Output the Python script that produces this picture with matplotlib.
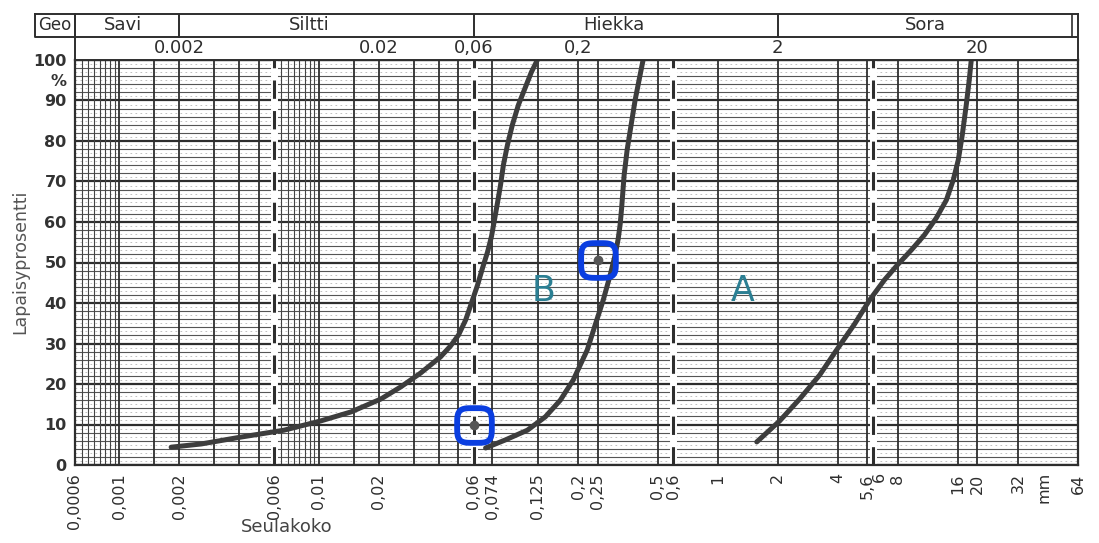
import numpy as np
import matplotlib.pyplot as plt
import matplotlib.transforms as mtransforms
from matplotlib.path import Path

# ---------------- data ----------------
# seulakoko (mm) vs lapaisyprosentti (%)
curve1_x = [0.00182, 0.00258, 0.00408, 0.0067, 0.01026, 0.0145, 0.0205, 0.0258, 0.0324,
            0.0408, 0.0458, 0.0502, 0.0545, 0.0583, 0.0625, 0.0662, 0.0702, 0.0735,
            0.076, 0.0787, 0.0815, 0.0843, 0.0883, 0.0935, 0.1002, 0.1087, 0.1164, 0.1247]
curve1_y = [4.4, 5.2, 6.9, 8.6, 10.9, 13.1, 16.3, 19.3, 22.7, 26.7, 29.4, 32.1, 35.8,
            40.0, 44.4, 48.6, 52.6, 56.5, 60.5, 64.7, 69.1, 74.1, 79.0, 84.0, 88.9,
            93.3, 97.0, 100]
curve2_x = [0.0686, 0.0863, 0.1112, 0.1368, 0.1626, 0.1888, 0.2046, 0.2218, 0.2432,
            0.2667, 0.2891, 0.3062, 0.3170, 0.3245, 0.3300, 0.3396, 0.3516, 0.3682,
            0.3855, 0.4037, 0.4227]
curve2_y = [4.2, 6.2, 8.6, 11.9, 16.0, 21.0, 24.7, 28.4, 34.6, 40.7, 46.9, 51.9, 55.8,
            59.5, 63.5, 71.6, 77.8, 84.0, 90.1, 95.1, 100]
curve3_x = [1.57, 2.046, 2.576, 3.243, 3.945, 4.853, 5.768, 6.855, 7.962, 9.355, 10.87,
            12.47, 14.0, 15.17, 16.07, 16.83, 17.62, 18.24, 18.67]
curve3_y = [5.7, 10.9, 16.3, 22.2, 28.4, 34.8, 40.7, 45.7, 49.4, 53.1, 56.8, 61.0, 65.4,
            70.4, 75.3, 81.5, 88.9, 95.1, 100]

marked_x = [0.06, 0.25]
marked_y = [10, 50.5]

zone_labels = ['A', 'B']
zone_x = [1.34, 0.134]
zone_y = [43, 43]

x_ticks = [0.0006, 0.001, 0.002, 0.006, 0.01, 0.02, 0.06, 0.074, 0.125, 0.2, 0.25,
           0.5, 0.6, 1, 2, 4, 5.6, 8, 16, 20, 32, 64]
x_ticklabels = ['0,0006', '0,001', '0,002', '0,006', '0,01', '0,02', '0,06', '0,074',
                '0,125', '0,2', '0,25', '0,5', '0,6', '1', '2', '4', '5,6', '8',
                '16', '20', '32', '64']
y_ticks = [0, 10, 20, 30, 40, 50, 60, 70, 80, 90, 95, 100]
y_ticklabels = ['0', '10', '20', '30', '40', '50', '60', '70', '80', '90', '%', '100']

# header (geo classes)
geo_bounds = [0.002, 0.06, 2]
geo_names = ['Savi', 'Siltti', 'Hiekka', 'Sora']
geo_name_x = [0.00105, 0.009, 0.3, 11.0]
head_vals = [0.002, 0.02, 0.06, 0.2, 2, 20]
head_labels = ['0.002', '0.02', '0,06', '0,2', '2', '20']

# grid of the paper
grid_main = [0.001, 0.0015, 0.002, 0.003, 0.004, 0.005, 0.01, 0.015, 0.02, 0.03, 0.04,
             0.05, 0.074, 0.125, 0.2, 0.25, 0.5, 1, 2, 4, 5.6, 8, 16, 20, 32]
grid_dense = [0.00065, 0.0007, 0.00075, 0.0008, 0.00085, 0.0009, 0.00095,
              0.0065, 0.007, 0.0075, 0.008, 0.0085, 0.009, 0.0095]
grid_dashed = [0.006, 0.06, 0.6, 6]

ink = '#2e2e2e'
W, H = 1099, 543
fx = lambda px: px / W
fy = lambda py: 1 - py / H

fig = plt.figure(figsize=(10.99, 5.43), dpi=100)
ax = fig.add_axes([fx(75), fy(465), fx(1078) - fx(75), fy(60) - fy(465)])
ax.set_xscale('log')
ax.set_xlim(0.0006, 64)
ax.set_ylim(0, 100)

# horizontal rulings
for v in range(0, 101):
    if v % 10 == 0:
        ax.axhline(v, color=ink, lw=1.6, zorder=1)
    elif v % 2 == 0:
        ax.axhline(v, color='#555555', lw=0.8, zorder=1)
    else:
        ax.axhline(v, color='#b5b5b5', lw=0.6, ls=(0, (2, 4)), zorder=1)
# vertical rulings
for v in grid_main:
    ax.axvline(v, color=ink, lw=1.3, zorder=1)
for v in grid_dense:
    ax.axvline(v, color='#444444', lw=0.8, zorder=1)
for v in grid_dashed:
    ax.axvline(v, color='white', lw=5, zorder=1.5)
    ax.axvline(v, color=ink, lw=2.2, ls=(0, (6, 4)), zorder=2)

for s in ax.spines.values():
    s.set_linewidth(1.6)
    s.set_color(ink)

# curves
for cx, cy in [(curve1_x, curve1_y), (curve2_x, curve2_y), (curve3_x, curve3_y)]:
    ax.plot(cx, cy, color='#3d3d3d', lw=3.6, solid_capstyle='round',
            solid_joinstyle='round', zorder=4)

# hand-drawn marks: rounded square outline
t = np.linspace(0, 2 * np.pi, 64)
rsq = Path(np.column_stack([np.sign(np.cos(t)) * np.abs(np.cos(t)) ** 0.5,
                            np.sign(np.sin(t)) * np.abs(np.sin(t)) ** 0.5]))
ax.plot(marked_x, marked_y, ls='none', marker=rsq,
        ms=25, mfc='none', mec='#0a3ee0', mew=4.2, zorder=5)
ax.plot(marked_x, marked_y, ls='none', marker='o', ms=6, color='#555555', zorder=6)

for lab, zx, zy in zip(zone_labels, zone_x, zone_y):
    ax.text(zx, zy, lab, color='#2b7f93', fontsize=25, ha='center', va='center', zorder=6)

# ticks
ax.set_xticks(x_ticks)
ax.set_xticklabels(x_ticklabels, rotation=90, fontsize=11.5, color=ink)
ax.xaxis.set_minor_locator(plt.NullLocator())
ax.set_yticks(y_ticks)
ax.set_yticklabels(y_ticklabels, fontsize=11.5, fontweight='bold', color='#333333')
ax.tick_params(length=0, pad=6)
xt = ax.get_xaxis_transform()
ax.text(6.5, -0.016, '6', rotation=90, ha='center', va='top', fontsize=11.5, color=ink,
        transform=xt)
ax.text(43, -0.016, 'mm', rotation=90, ha='center', va='top', fontsize=11.5, color=ink,
        transform=xt)

fig.text(fx(287), fy(527), 'Seulakoko', fontsize=13, color='#444444', ha='center', va='center')
fig.text(fx(20), fy(262), 'Lapaisyprosentti', fontsize=12.5, color='#555555', rotation=90,
         ha='center', va='center')

# header table
hx = fig.add_axes([fx(75), fy(60), fx(1078) - fx(75), fy(14) - fy(60)])
hx.set_xscale('log')
hx.set_xlim(0.0006, 64)
hx.set_ylim(0, 2)
hx.set_xticks([])
hx.set_yticks([])
hx.xaxis.set_minor_locator(plt.NullLocator())
for s in hx.spines.values():
    s.set_linewidth(1.4)
    s.set_color(ink)
hx.axhline(1, color=ink, lw=1.4)
for b in geo_bounds:
    hx.plot([b, b], [1, 2], color=ink, lw=1.4)
hx.plot([60, 60], [1, 2], color=ink, lw=1.2)
for name, nx in zip(geo_names, geo_name_x):
    hx.text(nx, 1.5, name, fontsize=13, ha='center', va='center', color=ink)
for v, lab in zip(head_vals, head_labels):
    hx.text(v, 0.5, lab, fontsize=13, ha='center', va='center', color=ink)

blend = mtransforms.blended_transform_factory(hx.transAxes, hx.transData)
gx0 = (35 - 75) / (1078 - 75)
hx.plot([gx0, 0, 0, gx0, gx0], [2, 2, 1, 1, 2], color=ink, lw=1.4, transform=blend, clip_on=False)
hx.text(gx0 / 2, 1.5, 'Geo', fontsize=12, ha='center', va='center', color=ink,
        transform=blend)

fig.savefig('out.png', dpi=100, facecolor='white')
